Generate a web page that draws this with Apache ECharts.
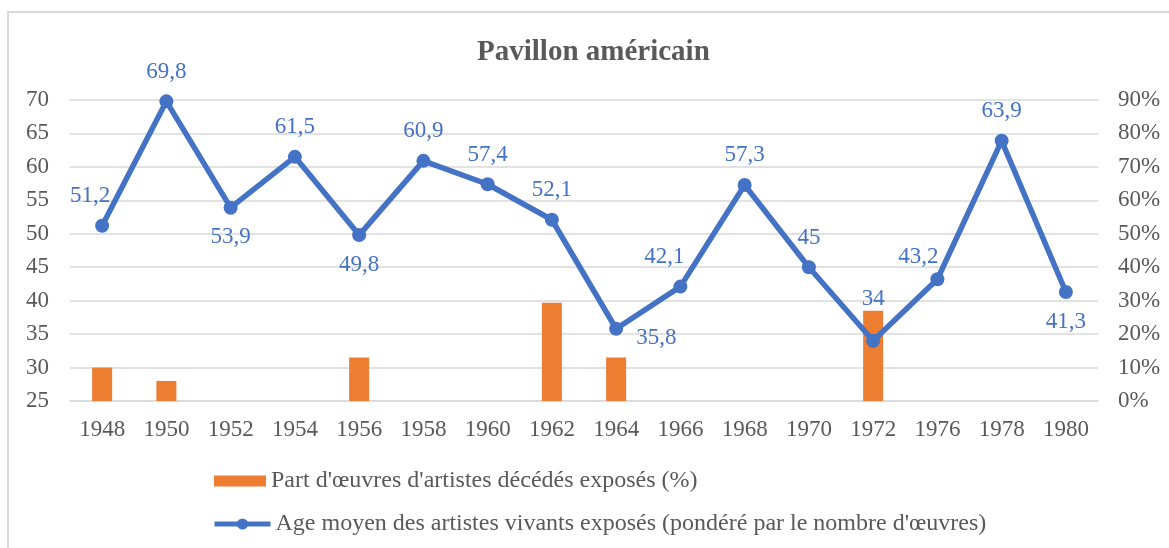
<!DOCTYPE html>
<html>
<head>
<meta charset="utf-8">
<script src="https://cdn.jsdelivr.net/npm/echarts@6/dist/echarts.min.js"></script>
<style>
  html, body { margin: 0; padding: 0; background: #fff; }
  #frame { position: absolute; left: 7px; top: 11px; width: 1300px; height: 700px;
           border: 2px solid #d9d9d9; box-sizing: border-box; }
  #main { position: absolute; left: 0; top: 0; width: 1169px; height: 548px; }
</style>
</head>
<body>
<div id="frame"></div>
<div id="main"></div>
<script>
// années
var years = ['1948', '1950', '1952', '1954', '1956', '1958', '1960', '1962',
             '1964', '1966', '1968', '1970', '1972', '1976', '1978', '1980'];
// part d'oeuvres d'artistes décédés (%)
var deadShare = [10, 6, null, null, 13, null, null, 29.4, 13, null, null, null, 27, null, null, null];
// âge moyen des artistes vivants
var meanAge = [51.2, 69.8, 53.9, 61.5, 49.8, 60.9, 57.4, 52.1, 35.8, 42.1, 57.3, 45, 34, 43.2, 63.9, 41.3];

var leftTicks = { min: 25, max: 70, interval: 5 };
var rightTicks = { min: 0, max: 90, interval: 10 };

var serif = '"Liberation Serif", "Times New Roman", serif';
var grey = '#595959';
var blue = '#4472C4';
var orange = '#ED7D31';

var barName = "Part d'œuvres d'artistes décédés exposés (%)";
var lineName = "Age moyen des artistes vivants exposés (pondéré par le nombre d'œuvres)";

// placement des étiquettes (comme dans Excel)
var labelPlace = {
    0: { position: 'top', offset: [-12, 0] },
    2: { position: 'bottom' },
    4: { position: 'bottom' },
    8: { position: 'right', offset: [2, 9] },
    9: { position: 'top', offset: [-16, 0] },
    12: { position: 'top', offset: [0, -12] },
    13: { position: 'top', offset: [-19, 7] },
    15: { position: 'bottom' }
};

var lineData = meanAge.map(function (v, i) {
    var item = { value: v };
    if (labelPlace[i]) item.label = labelPlace[i];
    return item;
});

var myChart = echarts.init(document.getElementById('main'));

var legendText = { fontFamily: serif, fontSize: 24, color: grey };

var option = {
    animation: false,
    title: {
        text: 'Pavillon américain',
        left: 472,
        top: 33,
        textStyle: { fontFamily: serif, fontSize: 29, fontWeight: 'bold', color: grey }
    },
    grid: { left: 70, right: 71, top: 100, bottom: 147 },
    legend: [
        {
            orient: 'vertical',
            left: 209,
            top: 464,
            itemWidth: 52,
            itemHeight: 11,
            itemGap: 5,
            textStyle: legendText,
            data: [{ name: barName, icon: 'rect' }]
        },
        {
            orient: 'vertical',
            left: 207,
            top: 507,
            itemWidth: 56,
            itemHeight: 14,
            itemGap: 3,
            textStyle: legendText,
            data: [{ name: lineName, lineStyle: { width: 5 } }]
        }
    ],
    xAxis: {
        type: 'category',
        data: years,
        axisTick: { show: false },
        axisLine: { lineStyle: { color: '#d9d9d9', width: 1.5 } },
        axisLabel: { interval: 0, margin: 17, fontFamily: serif, fontSize: 23, color: grey }
    },
    yAxis: [
        {
            type: 'value',
            min: leftTicks.min, max: leftTicks.max, interval: leftTicks.interval,
            axisLine: { show: false },
            axisTick: { show: false },
            splitLine: { lineStyle: { color: '#d9d9d9', width: 1.5 } },
            axisLabel: { margin: 21, fontFamily: serif, fontSize: 23, color: grey }
        },
        {
            type: 'value',
            min: rightTicks.min, max: rightTicks.max, interval: rightTicks.interval,
            axisLine: { show: false },
            axisTick: { show: false },
            splitLine: { show: false },
            axisLabel: { margin: 20, fontFamily: serif, fontSize: 23, color: grey, formatter: '{value}%' }
        }
    ],
    series: [
        {
            name: barName,
            type: 'bar',
            yAxisIndex: 1,
            barWidth: 20,
            itemStyle: { color: orange },
            data: deadShare
        },
        {
            name: lineName,
            type: 'line',
            yAxisIndex: 0,
            symbol: 'circle',
            symbolSize: 14,
            lineStyle: { color: blue, width: 5.5 },
            itemStyle: { color: blue },
            label: {
                show: true,
                position: 'top',
                distance: 11,
                fontFamily: serif,
                fontSize: 23,
                color: blue,
                formatter: function (p) { return String(p.value).replace('.', ','); }
            },
            data: lineData
        }
    ]
};
myChart.setOption(option);
</script>
</body>
</html>
